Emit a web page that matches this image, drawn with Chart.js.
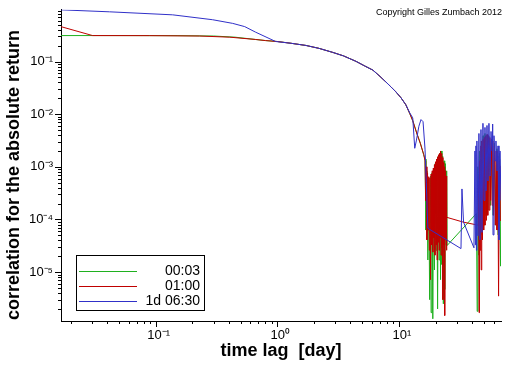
<!DOCTYPE html>
<html><head><meta charset="utf-8">
<script src="https://cdn.jsdelivr.net/npm/chart.js@4/dist/chart.umd.min.js"></script>
<style>html,body{margin:0;padding:0;background:#fff}</style>
</head><body>
<canvas id="c" width="512" height="366"></canvas>
<script>
const seriesNames = ['00:03', '01:00', '1d 06:30'];
const seriesColors = ['#1fb01f', '#c00000', '#3030c8'];
const xTitle = 'time lag  [day]';
const yTitle = 'correlation for the absolute return';
const copyright = 'Copyright Gilles Zumbach 2012';

const xTickValues = [0.1, 1, 10];
const xTickLabels = ['10\u207B\u00B9', '10\u2070', '10\u00B9'];
const yTickValues = [1e-5, 1e-4, 1e-3, 1e-2, 1e-1];
const yTickLabels = ['10\u207B\u2075', '10\u207B\u2074', '10\u207B\u00B3', '10\u207B\u00B2', '10\u207B\u00B9'];
const xDecades = [0.01, 0.1, 1, 10];
const yDecades = [1e-6, 1e-5, 1e-4, 1e-3, 1e-2, 1e-1];

const greenLag = [0.0167, 0.05, 0.15, 0.3, 0.45, 0.665, 0.8, 1.0, 1.3, 1.72, 2.2, 2.86, 3.5, 4.43, 5.2, 6.11, 7.0, 7.82, 8.6, 9.44, 10.4, 11.4, 12.3, 13.0, 14.1, 15.0, 16.0,
  16.4, 16.7, 17.0, 17.3, 17.6, 17.9, 18.2, 18.4, 18.7, 19.0, 19.3, 19.6, 19.9, 20.2, 20.5, 20.8, 21.1, 21.4, 21.7, 22.0, 22.3, 22.6, 22.9, 23.2, 23.5, 23.8, 24.1, 24.4, 24.7, 24.9,
  43.4, 44.0, 44.6, 45.3, 46.0, 46.8, 47.6, 48.4, 49.2, 50.0, 51.0, 52.0, 53.0, 54.0, 55.0, 56.5, 58.0, 59.5, 61.0, 62.5, 64.0, 65.5, 67.0, 68.5, 69.5];
const greenCorr = [0.311, 0.311, 0.31, 0.305, 0.29, 0.262, 0.25, 0.24, 0.222, 0.202, 0.178, 0.149, 0.128, 0.101, 0.083, 0.0687, 0.052, 0.0409, 0.033, 0.0266, 0.0205, 0.0151, 0.0102, 0.0075, 0.0042, 0.0028, 0.0017,
  1.4e-3, 6.3e-5, 8.4e-4, 1.7e-5, 6e-4, 3.0e-6, 6.7e-4, 1.7e-6, 7.7e-4, 1.3e-6, 9e-4, 1.1e-5, 1.15e-3, 2.6e-5, 1.4e-3, 2.0e-6, 1.6e-3, 1.7e-5, 1.8e-3, 7.2e-6, 2.0e-3, 1.4e-5, 1.6e-3, 2.5e-6, 1.3e-3, 4.7e-6, 1.15e-3, 3.3e-5, 8.4e-4, 3.2e-5,
  1.3e-4, 1.8e-6, 1.0e-3, 2.1e-5, 2.0e-3, 4.1e-5, 3.1e-3, 5.1e-5, 3.9e-3, 7.8e-5, 4.3e-3, 1.2e-4, 4.1e-3, 1.5e-4, 3.8e-3, 1.85e-4, 3.3e-3, 1.2e-4, 2.8e-3, 7.8e-5, 2.2e-3, 5.1e-5, 1.8e-3, 1.3e-5, 1.4e-3];

const redLag = [0.0167, 0.0303, 0.0893, 0.23, 0.407, 0.665, 0.8, 1.0, 1.3, 1.72, 2.2, 2.86, 3.5, 4.43, 5.2, 6.11, 7.0, 7.82, 8.6, 9.44, 10.4, 11.4, 12.3, 13.0, 14.1, 15.0, 16.0,
  16.4, 16.6, 16.8, 17.0, 17.2, 17.4, 17.6, 17.8, 18.0, 18.2, 18.4, 18.6, 18.8, 19.0, 19.2, 19.4, 19.6, 19.8, 20.0, 20.2, 20.4, 20.6, 20.8, 21.0, 21.2, 21.4, 21.6, 21.8, 22.0, 22.2, 22.4, 22.6, 22.8, 23.0, 23.2, 23.4, 23.6, 23.8, 24.0, 24.2, 24.4, 24.6, 24.8,
  33.9, 44.8,
  45.2, 45.6, 46.0, 46.5, 47.0, 47.5, 48.0, 48.6, 49.2, 49.8, 50.4, 51.0, 51.7, 52.4, 53.1, 53.8, 54.5, 55.2, 56.0, 56.8, 57.6, 58.4, 59.2, 60.0, 61.0, 62.0, 63.0, 64.0, 65.0, 66.0, 67.0, 68.0, 69.0];
const redCorr = [0.459, 0.311, 0.31, 0.305, 0.29, 0.262, 0.25, 0.24, 0.222, 0.202, 0.178, 0.149, 0.128, 0.101, 0.083, 0.0687, 0.052, 0.0409, 0.033, 0.0266, 0.0205, 0.0151, 0.0102, 0.0075, 0.0042, 0.0028, 0.0017,
  1.3e-3, 2.3e-4, 1.0e-3, 4.1e-5, 7.7e-4, 6.3e-5, 6.5e-4, 2.6e-5, 6.2e-4, 7.2e-6, 7.3e-4, 3.3e-5, 8.4e-4, 2.4e-5, 9.5e-4, 4.5e-5, 1.1e-3, 2.1e-5, 1.25e-3, 3.3e-5, 1.4e-3, 1.7e-5, 1.55e-3, 3.7e-5, 1.7e-3, 2.6e-5, 1.8e-3, 4.5e-5, 2.0e-3, 2.1e-5, 1.8e-3, 2.9e-5, 1.5e-3, 3.0e-6, 1.2e-3, 3.3e-5, 1.0e-3, 1.5e-6, 8.4e-4, 4.1e-5, 6.7e-4, 2.6e-5, 1.1e-4,
  8.9e-5, 7.8e-5,
  5.4e-4, 1.7e-6, 1.3e-3, 2.6e-5, 2.5e-3, 1.1e-5, 3.1e-3, 4.1e-5, 3.3e-3, 6.3e-5, 3.6e-3, 7.8e-5, 3.9e-3, 9.6e-5, 4.1e-3, 1.2e-4, 3.9e-3, 1.5e-4, 3.6e-3, 2.3e-4, 3.3e-3, 1.85e-4, 3.1e-3, 1.2e-4, 2.5e-3, 7.8e-5, 2.0e-3, 6.3e-5, 1.6e-3, 3.5e-6, 1.3e-3, 9.6e-5, 1.04e-3];

const blueLag = [0.0167, 0.0418, 0.138, 0.294, 0.43, 0.54, 0.665, 0.97, 1.3, 1.72, 2.2, 2.86, 3.5, 4.43, 5.2, 6.11, 7.0, 7.82, 8.6, 9.44, 10.4, 11.4, 12.3, 13.0, 13.5, 13.9, 14.6, 15.2, 15.8, 16.4, 16.8, 17.3,
  32.4, 33.0, 34.0,
  41.4, 42.2, 42.6, 43.0, 43.4, 43.8, 44.7, 45.5, 46.4, 47.3, 48.2, 49.1, 50.1, 51.0, 52.0, 53.0, 54.0, 55.0, 56.1, 57.2, 58.3, 59.0, 59.4, 60.5, 61.7, 62.8, 64.1, 65.3, 66.5, 67.8, 69.1, 70.5];
const blueCorr = [0.958, 0.879, 0.77, 0.622, 0.53, 0.46, 0.36, 0.24, 0.222, 0.202, 0.178, 0.149, 0.128, 0.101, 0.083, 0.0687, 0.052, 0.0409, 0.033, 0.0266, 0.0205, 0.0151, 0.0105, 0.0085, 0.00225, 0.0031, 0.0059, 0.0079, 0.0072, 0.00217, 5e-4, 6.8e-5,
  2.8e-5, 3.8e-4, 8.9e-5,
  2.9e-5, 2.0e-3, 3.3e-5, 2.5e-3, 2.6e-5, 3.1e-3, 4.9e-5, 4.3e-3, 4.1e-5, 5.1e-3, 5.7e-5, 6.7e-3, 2.3e-4, 5.6e-3, 3.5e-4, 6.1e-3, 5.4e-4, 6.7e-3, 6.7e-4, 4.7e-3, 2.0e-3, 6.5e-3, 5.1e-5, 3.9e-3, 1.3e-3, 3.1e-3, 8.4e-4, 2.5e-3, 4.1e-5, 2.0e-3, 2.3e-4, 1.5e-3];

const X_MIN = 1 / 60, X_MAX = 69.1, Y_MIN = 1.18e-6, Y_MAX = 0.96;

const toPts = (lag, corr) => lag.map((x, i) => ({ x, y: corr[i] }));
const isDecade = v => Math.abs(Math.log10(v) - Math.round(Math.log10(v))) < 1e-6;
function makeTicks(decades, min, max) {
  const out = [];
  decades.forEach(d => { for (let m = 1; m <= 9; m++) { const v = d * m; if (v >= min * 0.9999 && v <= max * 1.0001) out.push({ value: v }); } });
  return out;
}
function labelFor(v, vals, labels) {
  for (let i = 0; i < vals.length; i++) if (Math.abs(v / vals[i] - 1) < 1e-6) return labels[i];
  return '';
}

const ds = (lag, corr, idx) => ({
  label: seriesNames[idx], data: toPts(lag, corr), showLine: true, borderColor: seriesColors[idx],
  backgroundColor: seriesColors[idx], borderWidth: 1, pointRadius: 0, tension: 0, fill: false
});

const decor = {
  id: 'decor',
  afterDraw(chart) {
    const ctx = chart.ctx, a = chart.chartArea, xs = chart.scales.x, ys = chart.scales.y;
    ctx.save();
    ctx.strokeStyle = '#000'; ctx.lineWidth = 1;
    ctx.beginPath();
    xs.ticks.forEach(t => {
      const p = Math.round(xs.getPixelForValue(t.value)) + 0.5;
      const len = isDecade(t.value) ? 6 : 3;
      ctx.moveTo(p, a.bottom); ctx.lineTo(p, a.bottom + len);
    });
    ys.ticks.forEach(t => {
      const p = Math.round(ys.getPixelForValue(t.value)) + 0.5;
      const len = isDecade(t.value) ? 6 : 3;
      ctx.moveTo(a.left, p); ctx.lineTo(a.left - len, p);
    });
    ctx.stroke();
    ctx.fillStyle = '#000';
    ctx.font = 'bold 18px "Liberation Sans"';
    ctx.textAlign = 'center'; ctx.textBaseline = 'alphabetic';
    ctx.fillText(xTitle, (a.left + a.right) / 2, 356);
    ctx.save(); ctx.translate(19, 175); ctx.rotate(-Math.PI / 2); ctx.fillText(yTitle, 0, 0); ctx.restore();
    ctx.font = '9px "Liberation Sans"'; ctx.textAlign = 'right';
    ctx.fillText(copyright, 502, 15);
    // legend
    const lx = a.left + 15, ly = 255, lw = 128, lh = 55;
    ctx.fillStyle = '#fff'; ctx.fillRect(lx, ly, lw, lh);
    ctx.strokeStyle = '#000'; ctx.strokeRect(lx + 0.5, ly + 0.5, lw, lh);
    ctx.font = '14px "Liberation Sans"'; ctx.textAlign = 'right'; ctx.textBaseline = 'middle';
    seriesNames.forEach((n, i) => {
      const yy = ly + 16 + i * 15 + 0.5;
      ctx.strokeStyle = seriesColors[i]; ctx.beginPath(); ctx.moveTo(lx + 3, yy); ctx.lineTo(lx + 61, yy); ctx.stroke();
      ctx.fillStyle = '#000'; ctx.fillText(n, lx + 124, yy);
    });
    ctx.restore();
  }
};

new Chart(document.getElementById('c'), {
  type: 'scatter',
  data: { datasets: [ds(blueLag, blueCorr, 2), ds(redLag, redCorr, 1), ds(greenLag, greenCorr, 0)] },
  options: {
    responsive: false, animation: false, devicePixelRatio: 1,
    layout: { padding: { top: 7, right: 11, left: 0, bottom: 0 } },
    plugins: { legend: { display: false }, tooltip: { enabled: false } },
    scales: {
      x: {
        type: 'logarithmic', min: X_MIN, max: X_MAX,
        afterFit: s => { s.height = 45; },
        afterBuildTicks: s => { s.ticks = makeTicks(xDecades, X_MIN, X_MAX); },
        grid: { display: true, drawOnChartArea: false, drawTicks: true, tickLength: 6, color: 'rgba(0,0,0,0)', tickColor: 'rgba(0,0,0,0)' },
        border: { display: true, color: '#000', width: 1 },
        ticks: { autoSkip: false, maxRotation: 0, minRotation: 0, padding: 1, labelOffset: 3, color: '#000',
          font: { family: 'Liberation Sans', size: 13 }, callback: v => labelFor(v, xTickValues, xTickLabels) }
      },
      y: {
        type: 'logarithmic', min: Y_MIN, max: Y_MAX,
        afterFit: s => { s.width = 61; },
        afterBuildTicks: s => { s.ticks = makeTicks(yDecades, Y_MIN, Y_MAX); },
        grid: { display: true, drawOnChartArea: false, drawTicks: true, tickLength: 6, color: 'rgba(0,0,0,0)', tickColor: 'rgba(0,0,0,0)' },
        border: { display: true, color: '#000', width: 1 },
        ticks: { autoSkip: false, padding: 2, color: '#000',
          font: { family: 'Liberation Sans', size: 13 }, callback: v => labelFor(v, yTickValues, yTickLabels) }
      }
    }
  },
  plugins: [decor]
});
</script>
</body></html>
